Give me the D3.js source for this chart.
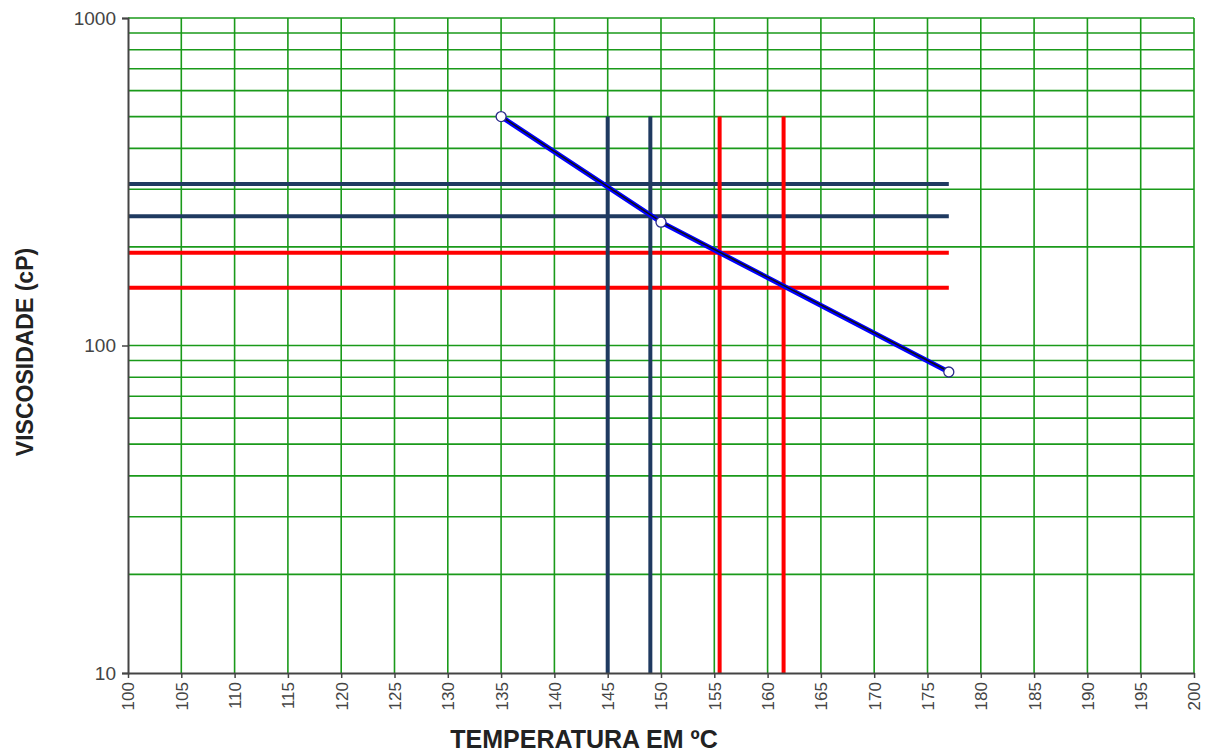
<!DOCTYPE html>
<html>
<head>
<meta charset="utf-8">
<script src="https://cdn.jsdelivr.net/npm/d3@7"></script>
<style>
  body { margin: 0; background: #fff; }
  text { font-family: "Liberation Sans", Arial, sans-serif; }
</style>
</head>
<body>
<svg id="chart" width="1210" height="756"></svg>
<script>
const margin = { left: 128, right: 16, top: 18, bottom: 83 };
const size = { width: 1210, height: 756 };

// viscosity curve points (temperature ºC, viscosity cP)
const curveTemps = [135, 150, 177];
const curveVisc = [500, 238, 83];

// reference lines: horizontal (viscosity) and vertical (temperature)
const navyVisc = [311, 248];
const redVisc = [192, 150];
const navyTemps = [145, 149];
const redTemps = [155.5, 161.5];

const xTicks = d3.range(100, 201, 5);
const yTicks = [10, 100, 1000];

const w = size.width - margin.left - margin.right;
const h = size.height - margin.top - margin.bottom;

const svg = d3.select('#chart');
const g = svg.append('g').attr('transform', `translate(${margin.left},${margin.top})`);

const x = d3.scaleLinear().domain([100, 200]).range([0, w]);
const y = d3.scaleLog().domain([10, 1000]).range([h, 0]);

const green = '#1a9a1a';
const navy = '#1f3a60';
const red = '#ff0000';

// horizontal grid at every log minor tick
const minor = [];
[10, 100].forEach(d => { for (let k = 1; k <= 9; k++) minor.push(d * k); });
minor.push(1000);
g.append('g').selectAll('line').data(minor.filter(v => v > 10)).enter().append('line')
  .attr('x1', 0).attr('x2', w)
  .attr('y1', d => y(d)).attr('y2', d => y(d))
  .attr('stroke', green).attr('stroke-width', 1.6);

// vertical grid
g.append('g').selectAll('line').data(xTicks.filter(v => v > 100)).enter().append('line')
  .attr('x1', d => x(d)).attr('x2', d => x(d))
  .attr('y1', 0).attr('y2', h)
  .attr('stroke', green).attr('stroke-width', 1.6);

// reference lines
const xEnd = curveTemps[curveTemps.length - 1];
const yTop = curveVisc[0];
function hLines(vals, color) {
  g.append('g').selectAll('line').data(vals).enter().append('line')
    .attr('x1', 0).attr('x2', x(xEnd))
    .attr('y1', d => y(d)).attr('y2', d => y(d))
    .attr('stroke', color).attr('stroke-width', 4);
}
function vLines(vals, color) {
  g.append('g').selectAll('line').data(vals).enter().append('line')
    .attr('x1', d => x(d)).attr('x2', d => x(d))
    .attr('y1', y(yTop)).attr('y2', h)
    .attr('stroke', color).attr('stroke-width', 4);
}
hLines(navyVisc, navy);
hLines(redVisc, red);
vLines(navyTemps, navy);
vLines(redTemps, red);

// axes
const yAxis = d3.axisLeft(y).tickValues(yTicks).tickFormat(d3.format('d')).tickSize(6).tickPadding(6);
const ya = g.append('g').call(yAxis);
ya.select('.domain').attr('stroke', '#444').attr('stroke-width', 2);
ya.selectAll('.tick line').attr('stroke', '#444').attr('stroke-width', 1.5);
ya.selectAll('.tick text').attr('font-size', 19).attr('fill', '#444')
  .attr('font-family', '"Liberation Sans", Arial, sans-serif');

const xAxis = d3.axisBottom(x).tickValues(xTicks).tickSize(5).tickSizeOuter(0);
const xa = g.append('g').attr('transform', `translate(0,${h})`).call(xAxis);
xa.select('.domain').attr('stroke', '#444').attr('stroke-width', 2);
xa.selectAll('.tick line').attr('stroke', '#444').attr('stroke-width', 1.5);
xa.selectAll('.tick text')
  .attr('font-size', 17).attr('fill', '#444')
  .attr('font-family', '"Liberation Sans", Arial, sans-serif')
  .attr('transform', 'rotate(-90)')
  .attr('text-anchor', 'end')
  .attr('x', -9).attr('y', 0).attr('dy', '0.35em');

// curve
const pts = curveTemps.map((t, i) => ({ t, v: curveVisc[i] }));
const line = d3.line().x(d => x(d.t)).y(d => y(d.v));
g.append('path').datum(pts).attr('d', line)
  .attr('fill', 'none').attr('stroke', '#0000ff').attr('stroke-width', 5);
g.append('path').datum(pts).attr('d', line)
  .attr('fill', 'none').attr('stroke', '#111').attr('stroke-width', 1.5)
  .attr('transform', 'translate(-1,-1)');
g.append('g').selectAll('circle').data(pts).enter().append('circle')
  .attr('cx', d => x(d.t)).attr('cy', d => y(d.v)).attr('r', 5)
  .attr('fill', '#fff').attr('stroke', '#2a2a8a').attr('stroke-width', 1.3);

// titles
svg.append('text')
  .attr('x', 584).attr('y', 748)
  .attr('text-anchor', 'middle').attr('font-size', 25).attr('font-weight', 'bold').attr('fill', '#222')
  .text('TEMPERATURA EM ºC');
svg.append('text')
  .attr('transform', `translate(33,352) rotate(-90)`)
  .attr('text-anchor', 'middle').attr('font-size', 23).attr('font-weight', 'bold').attr('fill', '#222')
  .text('VISCOSIDADE (cP)');
</script>
</body>
</html>
